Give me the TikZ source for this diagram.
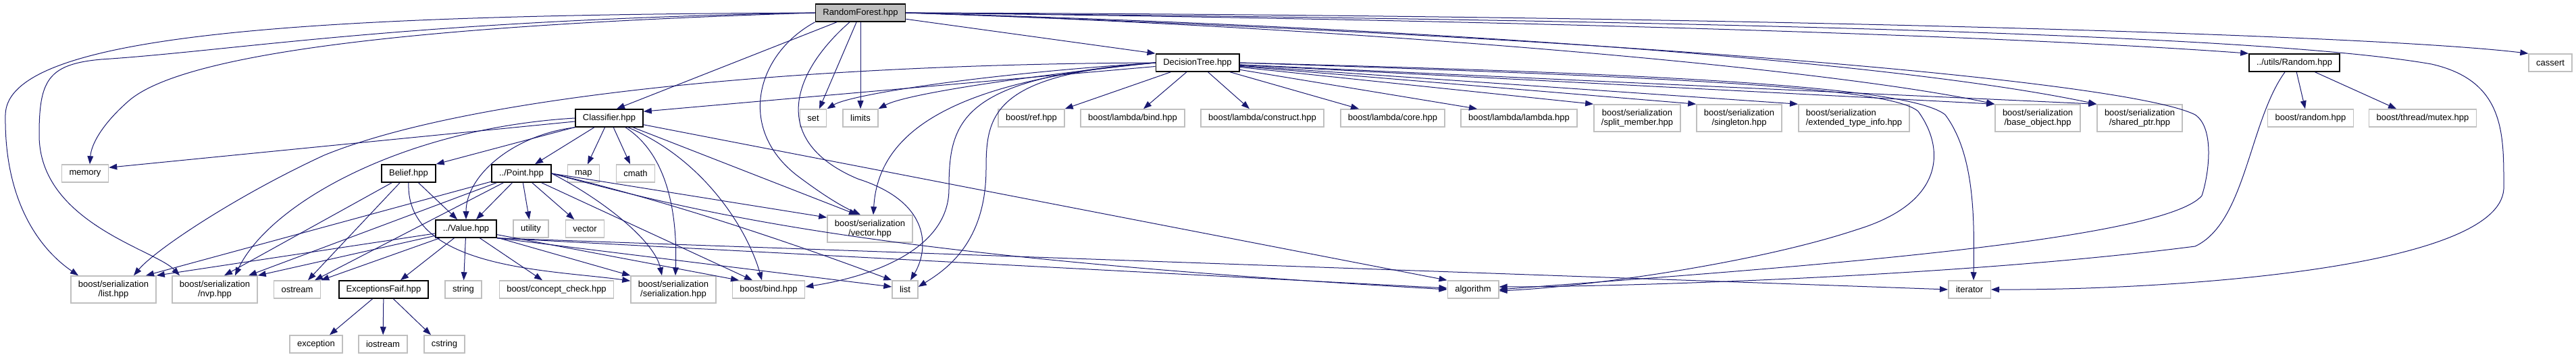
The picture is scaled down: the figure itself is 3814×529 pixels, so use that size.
\documentclass[tikz,border=0pt]{standalone}
\usepackage{fontspec}
\setmainfont{Liberation Sans}
\usetikzlibrary{arrows.meta}
\definecolor{dxedge}{HTML}{191970}
\definecolor{dxgray}{HTML}{BFBFBF}
\begin{document}
\begin{tikzpicture}[x=0.5pt,y=-0.5pt,
  every node/.style={font=\fontsize{6.5}{7}\selectfont,inner xsep=5.5pt,inner ysep=1.5pt,minimum height=13pt},
  hdr/.style={draw=black,fill=white,line width=0.8pt},
  sys/.style={draw=dxgray,fill=white,line width=0.75pt},
  two/.style={align=center,minimum height=20pt},
  dep/.style={->,draw=dxedge,line width=0.5pt},
  >={Triangle[length=6pt,width=4.4pt]}]
\useasboundingbox (0,0) rectangle (3814,529);
% level 0 and 1
\node[hdr,fill=dxgray] (rf) at (1274,19) {RandomForest.hpp};
\node[hdr] (dt) at (1773,93) {DecisionTree.hpp};
\node[hdr] (rnd) at (3397,93) {../utils/Random.hpp};
\node[sys] (cassert) at (3776,93) {cassert};
% level 2
\node[hdr] (cls) at (902,175) {Classifier.hpp};
\node[sys] (set) at (1204,175) {set}; \node[sys] (limits) at (1274,175) {limits};
\node[sys] (ref) at (1527,175) {boost/ref.hpp};
\node[sys] (lbind) at (1677,175) {boost/lambda/bind.hpp};
\node[sys] (lcons) at (1869,175) {boost/lambda/construct.hpp};
\node[sys] (lcore) at (2062,175) {boost/lambda/core.hpp};
\node[sys] (llam) at (2249,175) {boost/lambda/lambda.hpp};
\node[sys,two] (split) at (2424,175) {boost/serialization\\/split\_member.hpp};
\node[sys,two] (single) at (2575,175) {boost/serialization\\/singleton.hpp};
\node[sys,two,align=left] (eti) at (2745,175) {boost/serialization\\/extended\_type\_info.hpp};
\node[sys,two] (base) at (3017,175) {boost/serialization\\/base\_object.hpp};
\node[sys,two] (sptr) at (3168,175) {boost/serialization\\/shared\_ptr.hpp};
\node[sys] (brand) at (3421,175) {boost/random.hpp};
\node[sys] (mutex) at (3587,175) {boost/thread/mutex.hpp};
% level 3
\node[sys] (memory) at (126,257) {memory};
\node[hdr] (belief) at (605,257) {Belief.hpp}; \node[hdr] (point) at (772,257) {../Point.hpp};
\node[sys] (map) at (864,257) {map}; \node[sys] (cmath) at (941,257) {cmath};
% level 4
\node[hdr] (value) at (690,339) {../Value.hpp};
\node[sys] (utility) at (786,339) {utility}; \node[sys] (vector) at (866,339) {vector};
\node[sys,two] (svec) at (1288,339) {boost/serialization\\/vector.hpp};
% level 5
\node[sys,two] (slist) at (168,429) {boost/serialization\\/list.hpp};
\node[sys,two] (nvp) at (318,429) {boost/serialization\\/nvp.hpp};
\node[sys] (ostream) at (440,429) {ostream};
\node[hdr] (exc) at (568,429) {ExceptionsFaif.hpp};
\node[sys] (string) at (686,429) {string};
\node[sys] (concept) at (824,429) {boost/concept\_check.hpp};
\node[sys,two] (sser) at (997,429) {boost/serialization\\/serialization.hpp};
\node[sys] (bbind) at (1138,429) {boost/bind.hpp};
\node[sys] (list) at (1340,429) {list};
\node[sys] (algo) at (2181,429) {algorithm};
\node[sys] (iter) at (2916,429) {iterator};
% level 6
\node[sys] (exception) at (468,510) {exception};
\node[sys] (iostream) at (567,510) {iostream}; \node[sys] (cstring) at (658,510) {cstring};
% RandomForest.hpp
\draw[dep] (rf.west) .. controls (450,22) and (10,50) .. (8,170) .. controls (6,300) and (60,370) .. ([xshift=-26pt]slist.north);
\draw[dep] (rf.west) .. controls (600,30) and (350,75) .. (150,88) .. controls (70,95) and (58,120) .. (58,200) .. controls (58,330) and (230,370) .. ([xshift=-26pt]nvp.north);
\draw[dep] (rf.west) .. controls (700,35) and (280,70) .. (190,150) .. controls (150,185) and (135,215) .. ([xshift=3.5pt]memory.north);
\draw[dep] (rf.south west) .. controls (1120,80) and (1090,190) .. (1180,260) .. controls (1220,290) and (1245,305) .. ([xshift=-7pt]svec.north);
\draw[dep] ([xshift=-8pt]rf.south) .. controls (1170,110) and (1140,210) .. (1270,265) .. controls (1380,300) and (1375,370) .. ([xshift=4pt]list.north);
\draw[dep] (rf) -- ([xshift=5.5pt]cls.north); \draw[dep] (rf) -- ([xshift=4.5pt]set.north); \draw[dep] (rf) -- (limits);
\draw[dep] (rf) -- (dt.north west);
\draw[dep] (rf.east) .. controls (2000,40) and (2700,100) .. (base.north west);
\draw[dep] (rf.east) .. controls (2100,40) and (2800,90) .. (sptr.north west);
\draw[dep] (rf.east) .. controls (2300,30) and (3000,55) .. (rnd.north west);
\draw[dep] (rf.east) .. controls (2500,22) and (3500,50) .. (cassert.north west);
\draw[dep] (rf.east) .. controls (2800,32) and (3400,60) .. (3600,95) .. controls (3710,120) and (3707,200) .. (3707,280) .. controls (3700,400) and (3200,430) .. (iter.east);
\draw[dep] (rf.east) .. controls (2400,55) and (3150,120) .. (3250,170) .. controls (3280,190) and (3270,260) .. (3260,290) .. controls (3200,360) and (2600,400) .. (algo.east);
% DecisionTree.hpp
\draw[dep] (dt) -- (ref.north east); \draw[dep] (dt) -- ([xshift=8pt]lbind.north);
\draw[dep] (dt) -- ([xshift=-9.5pt]lcons.north); \draw[dep] (dt) -- ([xshift=-25pt]lcore.north);
\draw[dep] (dt) -- ([xshift=-31pt]llam.north); \draw[dep] (dt) -- (split.north west);
\draw[dep] (dt) -- (single.north west); \draw[dep] (dt) -- (eti.north west);
\draw[dep] (dt) -- (base.north west); \draw[dep] (dt) -- (sptr.north west);
\draw[dep] (dt.east) .. controls (2500,110) and (2830,130) .. (2880,170) .. controls (2925,230) and (2923,330) .. ([xshift=3pt]iter.north);
\draw[dep] (dt.east) .. controls (2500,115) and (2800,130) .. (2840,165) .. controls (2880,220) and (2880,300) .. (2750,340) .. controls (2600,390) and (2350,425) .. ([yshift=-1pt]algo.east);
\draw[dep] (dt) -- ([yshift=-2pt]cls.north east);
\draw[dep] (dt.west) .. controls (1450,110) and (1260,140) .. (set.north east);
\draw[dep] (dt.west) .. controls (1500,115) and (1340,140) .. (limits.north east);
\draw[dep] (dt.west) .. controls (1400,120) and (1300,200) .. ([xshift=2.5pt]svec.north);
\draw[dep] (dt.west) .. controls (1420,115) and (1405,180) .. (1405,280) .. controls (1405,370) and (1290,410) .. ([yshift=2pt]bbind.east);
\draw[dep] (dt.west) .. controls (1470,110) and (1460,170) .. (1460,250) .. controls (1460,360) and (1400,400) .. ([yshift=2pt]list.east);
\draw[dep] (dt.west) .. controls (1200,95) and (700,140) .. (480,230) .. controls (350,290) and (230,370) .. ([xshift=15pt]slist.north);
% Classifier.hpp
\draw[dep] (cls) -- ([yshift=-2.5pt]memory.north east);
\draw[dep] (cls.west) .. controls (600,190) and (400,300) .. ([xshift=15pt]nvp.north);
\draw[dep] (cls) -- (belief.north east); \draw[dep] (cls) -- ([xshift=10pt]point.north);
\draw[dep] (cls) -- ([xshift=3pt]map.north); \draw[dep] (cls) -- ([xshift=-4pt]cmath.north);
\draw[dep] (cls.south west) .. controls (760,200) and (690,260) .. (value.north);
\draw[dep] ([xshift=12pt]cls.south) .. controls (990,230) and (1003,320) .. ([xshift=1.5pt]sser.north);
\draw[dep] ([xshift=14pt]cls.south) .. controls (1050,240) and (1110,350) .. ([xshift=-5pt]bbind.north);
\draw[dep] (cls) -- ([xshift=-9.5pt]svec.north); \draw[dep] (cls) -- (algo.north west);
% Belief.hpp
\draw[dep] (belief) -- ([xshift=-6.5pt]value.north); \draw[dep] (belief) -- ([xshift=8pt]ostream.north);
\draw[dep] (belief) -- ([xshift=7pt]nvp.north);
\draw[dep] (belief.south) .. controls (600,400) and (820,400) .. ([yshift=-4pt]sser.north west);
% ../Point.hpp
\draw[dep] (point) -- ([xshift=7.5pt]value.north); \draw[dep] (point) -- (utility); \draw[dep] (point) -- (vector);
\draw[dep] (point) -- ([xshift=24pt]slist.north); \draw[dep] (point) -- ([xshift=25pt]nvp.north);
\draw[dep] (point) -- ([xshift=13pt]ostream.north); \draw[dep] (point.east) -- ([yshift=-2pt]svec.north west);
\draw[dep] (point.east) .. controls (900,300) and (970,360) .. ([xshift=-8.5pt]sser.north);
\draw[dep] (point) -- ([xshift=-12pt]bbind.north);
\draw[dep] (point.east) .. controls (1000,300) and (1200,370) .. (list.north west);
\draw[dep] (point.east) .. controls (1050,320) and (1300,380) .. (algo.west);
% ../Value.hpp
\draw[dep] (value) -- (slist.north east); \draw[dep] (value) -- (nvp.north east);
\draw[dep] (value) -- (ostream.north east); \draw[dep] (value) -- ([xshift=12.5pt]exc.north);
\draw[dep] (value) -- (string); \draw[dep] (value) -- ([xshift=-10.5pt]concept.north);
\draw[dep] (value) -- (sser.north west); \draw[dep] (value) -- ([xshift=-22pt]bbind.north);
\draw[dep] (value.south east) -- ([yshift=2pt]list.west); \draw[dep] (value.south east) -- ([yshift=1pt]algo.west);
\draw[dep] (value.south east) -- (iter.west);
% ExceptionsFaif.hpp and ../utils/Random.hpp
\draw[dep] (exc) -- ([xshift=10pt]exception.north); \draw[dep] (exc) -- (iostream); \draw[dep] (exc) -- ([xshift=-10pt]cstring.north);
\draw[dep] (rnd) -- ([xshift=-4pt]brand.north); \draw[dep] (rnd) -- ([xshift=-19.5pt]mutex.north);
\draw[dep] ([xshift=-7pt]rnd.south) .. controls (3330,180) and (3325,330) .. (3250,365) .. controls (2900,410) and (2400,425) .. ([yshift=2pt]algo.east);
\end{tikzpicture}
\end{document}
